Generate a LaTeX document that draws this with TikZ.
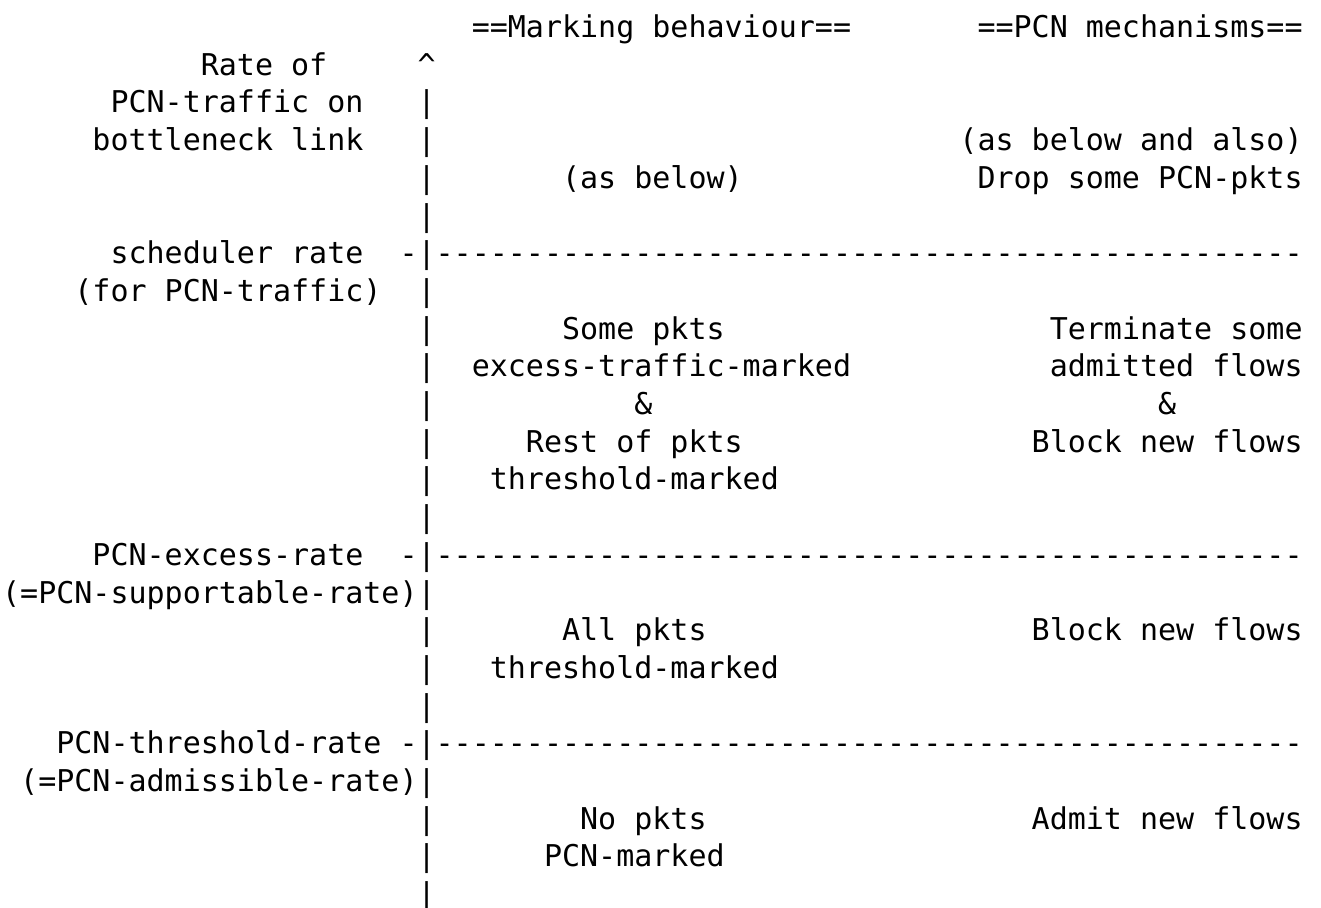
\documentclass[tikz,border=0pt]{standalone}
\usepackage{fontspec}
\usepackage{tikz}
\newfontfamily\asciifont{DejaVu Sans Mono}

\begin{document}
\begin{tikzpicture}[x=18.06pt, y=-37.7pt,
    txt/.style={anchor=base west, inner sep=0pt, yshift=-10.5pt,
        font=\asciifont\fontsize{30}{36}\selectfont}]
    \useasboundingbox (-0.11,-0.716) rectangle (73.03,23.342);

    % Column headings
    \node [txt] (markhead) at (26,0) {==Marking behaviour==};
    \node [txt] (mechhead) at (54,0) {==PCN mechanisms==};

    % Rate axis
    \node [txt] (tip) at (23,1) {\textasciicircum};
    \foreach \r in {2,3,4,5,7,8,9,10,11,12,13,15,16,17,18,20,21,22,23}
        \node [txt] (bar\r) at (23,\r) {|};
    \foreach \r/\n in {6/sched,14/excess,19/thresh}
        \node [txt] (tick\n) at (22,\r) {{-|}{----------}{----------}{----------}{----------}{--------}};

    % Axis labels
    \node [txt] (rate1) at (11,1) {Rate of};
    \node [txt] (rate2) at (6,2) {PCN-traffic on};
    \node [txt] (rate3) at (5,3) {bottleneck link};
    \node [txt] (sched1) at (6,6) {scheduler rate};
    \node [txt] (sched2) at (4,7) {(for PCN-traffic)};
    \node [txt] (excess1) at (5,14) {PCN-excess-rate};
    \node [txt] (excess2) at (0,15) {(=PCN-supportable-rate)};
    \node [txt] (thresh1) at (3,19) {PCN-threshold-rate};
    \node [txt] (thresh2) at (1,20) {(=PCN-admissible-rate)};

    % Marking behaviour
    \node [txt] (mark1) at (31,4) {(as below)};
    \node [txt] (mark2a) at (31,8) {Some pkts};
    \node [txt] (mark2b) at (26,9) {excess-traffic-marked};
    \node [txt] (mark2c) at (35,10) {\&};
    \node [txt] (mark2d) at (29,11) {Rest of pkts};
    \node [txt] (mark2e) at (27,12) {threshold-marked};
    \node [txt] (mark3a) at (31,16) {All pkts};
    \node [txt] (mark3b) at (27,17) {threshold-marked};
    \node [txt] (mark4a) at (32,21) {No pkts};
    \node [txt] (mark4b) at (30,22) {PCN-marked};

    % PCN mechanisms
    \node [txt] (mech1a) at (53,3) {(as below and also)};
    \node [txt] (mech1b) at (54,4) {Drop some PCN-pkts};
    \node [txt] (mech2a) at (58,8) {Terminate some};
    \node [txt] (mech2b) at (58,9) {admitted flows};
    \node [txt] (mech2c) at (64,10) {\&};
    \node [txt] (mech2d) at (57,11) {Block new flows};
    \node [txt] (mech3) at (57,16) {Block new flows};
    \node [txt] (mech4) at (57,21) {Admit new flows};
\end{tikzpicture}
\end{document}
